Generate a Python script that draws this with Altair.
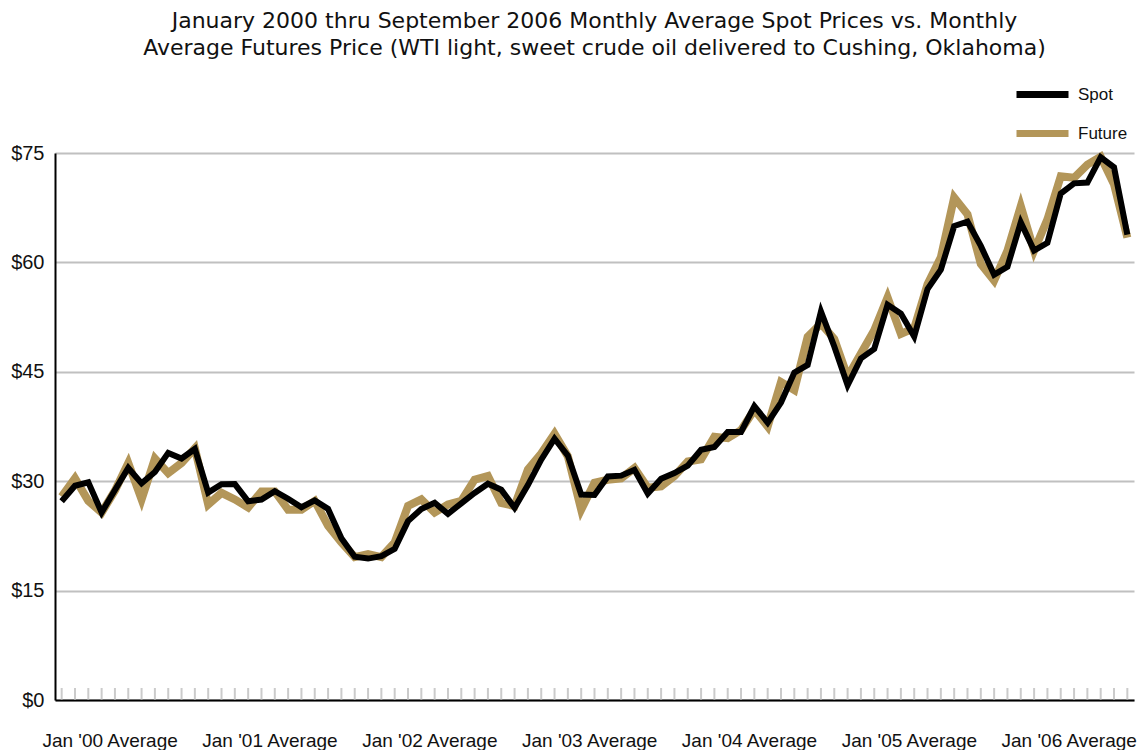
import json
import altair as alt
import pandas as pd

# ---- data ----
spot = [27.26, 29.37, 29.84, 25.72, 28.79, 31.82, 29.70, 31.26, 33.88, 33.11, 34.42, 28.44,
        29.59, 29.61, 27.25, 27.49, 28.63, 27.60, 26.43, 27.37, 26.20, 22.17, 19.64, 19.39,
        19.72, 20.72, 24.53, 26.18, 27.04, 25.52, 26.97, 28.39, 29.66, 28.84, 26.35, 29.46,
        32.95, 35.83, 33.51, 28.17, 28.11, 30.66, 30.76, 31.57, 28.31, 30.34, 31.11, 32.13,
        34.31, 34.69, 36.74, 36.75, 40.28, 38.03, 40.78, 44.90, 45.94, 53.28, 48.47, 43.15,
        46.84, 48.15, 54.19, 52.98, 49.83, 56.35, 59.00, 64.99, 65.59, 62.26, 58.32, 59.41,
        65.49, 61.63, 62.69, 69.44, 70.84, 70.95, 74.41, 73.04, 63.80]

future = [27.9, 30.4, 27.3, 25.7, 28.7, 32.5, 27.5, 33.1, 31.1, 32.5, 34.5, 26.8,
          28.4, 27.5, 26.4, 28.6, 28.6, 26.1, 26.1, 27.3, 23.9, 21.6, 19.6, 20.0,
          19.6, 21.6, 26.6, 27.5, 25.7, 26.8, 27.3, 30.2, 30.7, 27.0, 26.6, 31.6,
          33.8, 36.5, 33.4, 26.1, 29.8, 30.2, 30.4, 31.8, 29.1, 29.3, 30.7, 32.7,
          33.0, 36.1, 35.9, 37.0, 39.8, 37.5, 43.6, 42.5, 49.8, 51.6, 49.5, 44.3,
          47.5, 50.7, 55.2, 50.2, 51.0, 57.0, 60.7, 68.9, 66.6, 59.8, 57.5, 61.6,
          67.7, 61.6, 65.9, 71.8, 71.6, 73.4, 74.5, 70.7, 63.4]

year_labels = ["Jan '00 Average", "Jan '01 Average", "Jan '02 Average", "Jan '03 Average",
               "Jan '04 Average", "Jan '05 Average", "Jan '06 Average"]
label_positions = [3.6, 15.6, 27.6, 39.6, 51.6, 63.6, 75.6]
y_ticks = [0, 15, 30, 45, 60, 75]
series_names = ["Spot", "Future"]
series_colors = ["#000000", "#B39659"]

title_lines = ["January 2000 thru September 2006 Monthly Average Spot Prices vs. Monthly",
               "Average Futures Price (WTI light, sweet crude oil delivered to Cushing, Oklahoma)"]

months = list(range(len(spot)))
df = pd.DataFrame({
    "m": months * 2,
    "price": spot + future,
    "series": ["Spot"] * len(spot) + ["Future"] * len(future),
})
ticks_df = pd.DataFrame({"m": months})

FONT = "Liberation Sans"

x_scale = alt.Scale(domain=[-0.5, 80.5], nice=False, zero=False)
y_scale = alt.Scale(domain=[0, 75], nice=False)
color_scale = alt.Scale(domain=series_names, range=series_colors)

label_expr = json.dumps(year_labels) + "[round((datum.value - 3.6) / 12)]"

x_axis = alt.Axis(values=label_positions, labelExpr=label_expr, ticks=False, grid=False,
                  domainColor="#000000", domainWidth=2, labelFontSize=19, labelFont=FONT,
                  labelColor="#111111", labelPadding=31, title=None, labelFlush=False)
y_axis = alt.Axis(values=y_ticks, labelExpr="'$' + datum.value", ticks=False, grid=True,
                  gridColor="#c0c0c0", gridWidth=2, domainColor="#000000", domainWidth=2,
                  labelFontSize=20, labelFont=FONT, labelColor="#111111", labelPadding=11,
                  title=None)

legend = alt.Legend(title=None, orient="none", legendX=974, legendY=-72,
                    symbolType="M-2.6,0H2.6", symbolSize=400, symbolStrokeWidth=7,
                    labelFontSize=17, labelFont=FONT, labelColor="#111111",
                    rowPadding=10, labelOffset=22, padding=0)

base = alt.Chart(df)

fut_line = base.transform_filter(alt.datum.series == "Future").mark_line(
    strokeWidth=8, strokeJoin="miter"
).encode(
    x=alt.X("m:Q", scale=x_scale, axis=x_axis),
    y=alt.Y("price:Q", scale=y_scale, axis=y_axis),
    color=alt.Color("series:N", scale=color_scale, legend=legend),
)

spot_line = base.transform_filter(alt.datum.series == "Spot").mark_line(
    strokeWidth=6, strokeJoin="miter"
).encode(
    x=alt.X("m:Q", scale=x_scale),
    y=alt.Y("price:Q", scale=y_scale),
    color=alt.Color("series:N", scale=color_scale, legend=legend),
)

tick_marks = alt.Chart(ticks_df).mark_tick(
    size=24, thickness=2, color="#b5b5b5", clip=True, orient="vertical"
).encode(
    x=alt.X("m:Q", scale=x_scale),
    y=alt.Y(datum=0, scale=y_scale),
)

chart = alt.layer(tick_marks, fut_line, spot_line).properties(
    width=1079,
    height=547,
    title=alt.TitleParams(text=title_lines, fontSize=22, font="DejaVu Sans", fontWeight="normal",
                          color="#111111", anchor="middle", offset=21, lineHeight=27),
    autosize=alt.AutoSizeParams(type="none"),
    padding={"left": 47, "top": 145, "right": 4, "bottom": 50},
).configure_view(stroke=None)

chart.save("out.html", embed_options={"renderer": "svg", "actions": False})
